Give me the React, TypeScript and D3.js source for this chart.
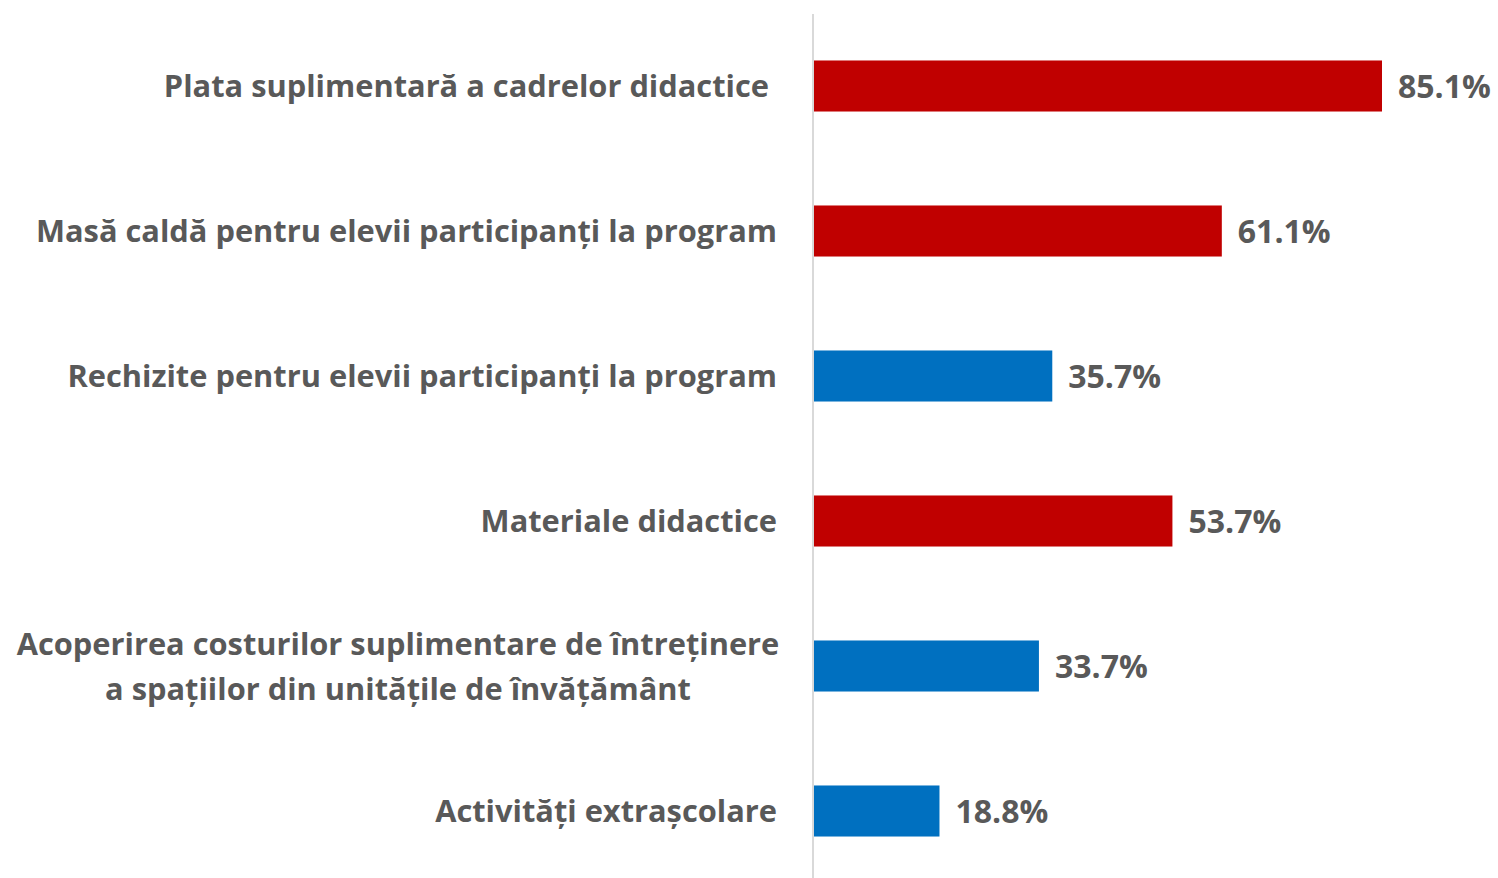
import React from 'react'
import { scaleLinear, scaleBand } from 'd3'

// Data
const categories = [
    'Plata suplimentară a cadrelor didactice ',
    'Masă caldă pentru elevii participanți la program',
    'Rechizite pentru elevii participanți la program',
    'Materiale didactice',
    'Acoperirea costurilor suplimentare de întreținere\na spațiilor din unitățile de învățământ',
    'Activități extrașcolare',
]
const values = [85.1, 61.1, 35.7, 53.7, 33.7, 18.8]
const colorGroups = ['red', 'red', 'blue', 'red', 'blue', 'blue']

const palette = { red: '#C00000', blue: '#0070C0' }
const textColor = '#595959'
const font = '"Open Sans", sans-serif'

const W = 1498
const H = 878
const x0 = 814

const App = () => {
    const xScale = scaleLinear().domain([0, 85.1]).range([x0, 1382])
    const yScale = scaleBand()
        .domain(categories)
        .range([13.5, 883.5])
        .paddingInner(0.648)
        .paddingOuter(0.324)

    return (
        <svg width={W} height={H} style={{ position: 'absolute', left: 0, top: 0 }}>
            <rect width={W} height={H} fill="#fff" />
            {categories.map((cat, i) => {
                const y = yScale(cat)!
                const bh = yScale.bandwidth()
                const cy = y + bh / 2
                const lines = cat.split('\n')
                return (
                    <g key={i}>
                        <rect x={x0} y={y} width={xScale(values[i]) - x0} height={bh} fill={palette[colorGroups[i]]} />
                        <text
                            x={xScale(values[i]) + 16}
                            y={cy}
                            dy="0.36em"
                            fontFamily={font}
                            fontWeight="bold"
                            fontSize={32}
                            fill={textColor}
                        >
                            {values[i].toFixed(1)}%
                        </text>
                        {lines.length === 1 ? (
                            <text
                                x={777}
                                y={cy}
                                dy="0.36em"
                                textAnchor="end"
                                fontFamily={font}
                                fontWeight="bold"
                                fontSize={30.8}
                                fill={textColor}
                                style={{ whiteSpace: 'pre' }}
                            >
                                {cat}
                            </text>
                        ) : (
                            lines.map((ln, j) => (
                                <text
                                    key={j}
                                    x={398}
                                    y={cy + (j - (lines.length - 1) / 2) * 45}
                                    dy="0.36em"
                                    textAnchor="middle"
                                    fontFamily={font}
                                    fontWeight="bold"
                                    fontSize={30.8}
                                    fill={textColor}
                                >
                                    {ln}
                                </text>
                            ))
                        )}
                    </g>
                )
            })}
            <line x1={813} x2={813} y1={14} y2={H} stroke="#d9d9d9" strokeWidth={2} />
        </svg>
    )
}

export default App
